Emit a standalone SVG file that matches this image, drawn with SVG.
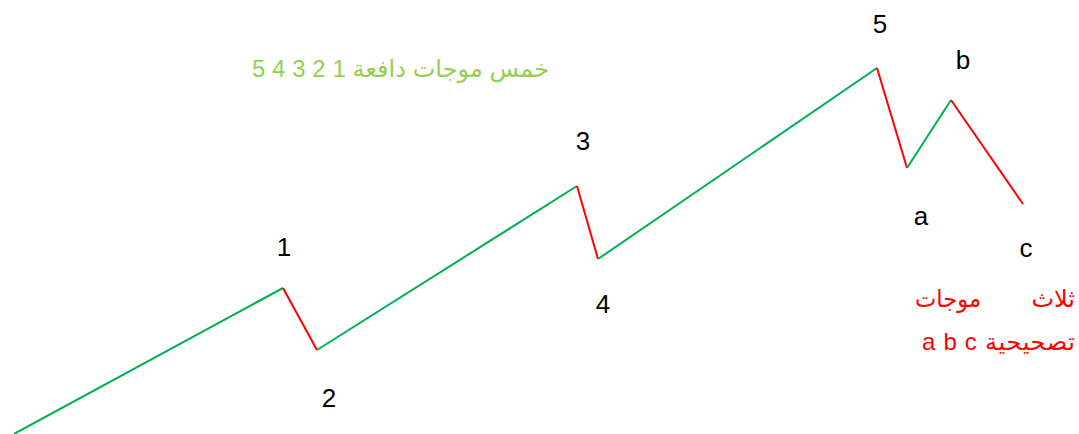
<svg xmlns="http://www.w3.org/2000/svg" width="1079" height="434" viewBox="0 0 1079 434">
<style>
.up{stroke:#00B050;stroke-width:2;fill:none}
.dn{stroke:#FF0000;stroke-width:2;fill:none}
.lbl{font-family:"Liberation Sans",Arial,sans-serif;font-size:26px;fill:#000;text-anchor:middle}
.gt{font-family:"Liberation Sans","DejaVu Sans",sans-serif;font-size:24px;fill:#92D050}
.rt{font-family:"Liberation Sans","DejaVu Sans",sans-serif;font-size:24px;fill:#FF0000}
</style>
<rect width="1079" height="434" fill="#fff"/>
<g id="connectors">
<line class="up" x1="14" y1="434" x2="283" y2="288"/>
<line class="dn" x1="283" y1="288" x2="317" y2="350"/>
<line class="up" x1="317" y1="350" x2="577" y2="186"/>
<line class="dn" x1="577" y1="186" x2="598" y2="259"/>
<line class="up" x1="598" y1="259" x2="877" y2="68"/>
<line class="dn" x1="877" y1="68" x2="907" y2="168"/>
<line class="up" x1="907" y1="168" x2="951" y2="100"/>
<line class="dn" x1="951" y1="100" x2="1023" y2="204"/>
</g>
<g id="n1"><text class="lbl" x="284" y="256">1</text></g>
<g id="n2"><text class="lbl" x="329" y="407">2</text></g>
<g id="n3"><text class="lbl" x="583" y="150">3</text></g>
<g id="n4"><text class="lbl" x="603" y="313">4</text></g>
<g id="n5"><text class="lbl" x="880" y="33">5</text></g>
<g id="na"><text class="lbl" x="921" y="225">a</text></g>
<g id="nb"><text class="lbl" x="963" y="69">b</text></g>
<g id="nc"><text class="lbl" x="1026" y="257">c</text></g>
<g id="title"><text class="gt" x="549" y="77" direction="rtl" text-anchor="start" textLength="297" lengthAdjust="spacing">خمس موجات دافعة 1 2 3 4 5</text></g>
<g id="note">
<text class="rt" x="1075" y="307" direction="rtl" text-anchor="start">ثلاث</text>
<text class="rt" x="981" y="307" direction="rtl" text-anchor="start" textLength="66" lengthAdjust="spacingAndGlyphs">موجات</text>
<text class="rt" x="1075" y="350" direction="rtl" text-anchor="start" textLength="153" lengthAdjust="spacing">تصحيحية a b c</text>
</g>
</svg>
